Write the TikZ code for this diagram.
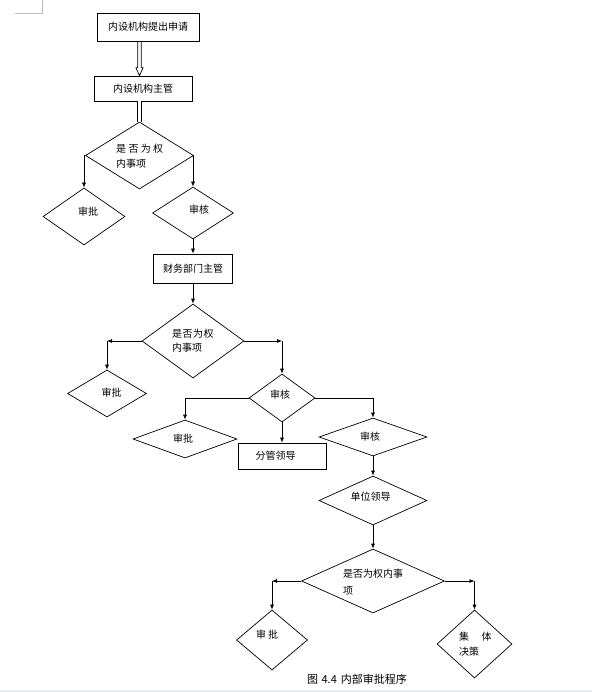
\documentclass[tikz,border=0pt]{standalone}
\usepackage{fontspec}
\setmainfont{Noto Sans CJK SC}
\usetikzlibrary{shapes.geometric,arrows.meta,calc}
\definecolor{band}{RGB}{234,234,242}
\definecolor{cornergray}{RGB}{190,190,190}
\tikzset{
  box/.style={draw, rectangle, line width=0.7pt, inner sep=0pt, font=\fontsize{10pt}{12pt}\selectfont},
  dia/.style={draw, diamond, line width=0.7pt, inner sep=0pt},
  txt/.style={inner sep=0pt, font=\fontsize{10pt}{12pt}\selectfont},
  ln/.style={line width=0.7pt},
  arr/.style={line width=0.7pt, -{Latex[length=5pt,width=4pt]}},
}
\begin{document}
\begin{tikzpicture}[x=1pt,y=-1pt]
\useasboundingbox (0,0) rectangle (592,692);
\fill[white] (0,0) rectangle (592,692);
\fill[band] (0,689.5) rectangle (592,692);
\draw[cornergray, line width=0.8pt] (15,13) -- (42.5,13) -- (42.5,0);

% nodes
\node[box, minimum width=102pt, minimum height=28pt] (b1) at (148,27) {内设机构提出申请};
\node[box, minimum width=98pt, minimum height=25pt] (b2) at (143,88.5) {内设机构主管};
\node[dia, minimum width=108pt, minimum height=67pt] (D1) at (139.5,155.5) {};
\node[txt, align=left, anchor=west, font=\fontsize{10pt}{15.5pt}\selectfont] (t1) at (116,156) {是\hspace{2.3pt}否\hspace{2.3pt}为\hspace{2.3pt}权\\内事项};
\node[dia, minimum width=82pt, minimum height=57pt] (A1) at (84,216.5) {};
\node[txt] (tA1) at (88,212) {审批};
\node[dia, minimum width=81pt, minimum height=52pt] (B1) at (193,213) {};
\node[txt] (tB1) at (199,210) {审核};
\node[box, minimum width=79pt, minimum height=29pt] (b3) at (193,268.5) {财务部门主管};
\node[dia, minimum width=102pt, minimum height=74pt] (D2) at (193,341) {};
\node[txt, align=left, anchor=west, font=\fontsize{10pt}{14pt}\selectfont] (t2) at (172,341) {是\hspace{0.5pt}否\hspace{0.5pt}为\hspace{0.5pt}权\\内事项};
\node[dia, minimum width=79pt, minimum height=47pt] (A2) at (107,393.5) {};
\node[txt] (tA2) at (111.5,393) {审批};
\node[dia, minimum width=66pt, minimum height=48pt] (B2) at (282,398) {};
\node[txt] (tB2) at (280,395) {审核};
\node[dia, minimum width=104pt, minimum height=38pt] (A3) at (185,439) {};
\node[txt] (tA3) at (183,439) {审批};
\node[box, minimum width=88pt, minimum height=26pt] (fg) at (282,456) {};
\node[txt] (tfg) at (275.5,456) {分管领导};
\node[dia, minimum width=108pt, minimum height=38pt] (B3) at (373,437) {};
\node[txt] (tB3) at (370,437) {审核};
\node[dia, minimum width=108pt, minimum height=49pt] (C) at (373,500.5) {};
\node[txt] (tC) at (370.5,497) {单位领导};
\node[dia, minimum width=143pt, minimum height=64pt] (D3) at (373,581) {};
\node[txt, align=left, anchor=west, font=\fontsize{10pt}{17pt}\selectfont] (t3) at (343,582.5) {是否为权内事\\项};
\node[dia, minimum width=71pt, minimum height=60pt] (A4) at (272,640) {};
\node[txt] (tA4) at (267,635) {审\hspace{2pt}批};
\node[dia, minimum width=75pt, minimum height=68pt] (E) at (474.5,644) {};
\node[txt, align=left, anchor=west, font=\fontsize{10pt}{15pt}\selectfont] (tE) at (459,644.5) {集\hspace{12.5pt}体\\决策};
\node[inner sep=0pt, font=\fontsize{11pt}{13pt}\selectfont] (cap) at (357,679) {图\hspace{3.5pt}4.4\hspace{4pt}内部审批程序};

% double open arrow b1 -> b2
\draw[ln, line join=miter]
  ($(b1.south -| D1.north)+(-1.8,0)$) -- ($(b2.north -| D1.north)+(-1.8,-8)$)
  -- ($(b2.north -| D1.north)+(-3.6,-8)$) -- (b2.north -| D1.north)
  -- ($(b2.north -| D1.north)+(3.6,-8)$) -- ($(b2.north -| D1.north)+(1.8,-8)$)
  -- ($(b1.south -| D1.north)+(1.8,0)$);
% double line b2 -> D1
\draw[ln, double, double distance=2.9pt] (b2.south -| D1.north) -- (D1.north);

% connectors
\draw[arr] (D1.west -| A1.north) -- (A1.north);
\draw[arr] (D1.east -| B1.north) -- (B1.north);
\draw[arr] (B1.south) -- (b3.north);
\draw[arr] (b3.south) -- (D2.north);
\draw[arr] (D2.west) -- (D2.west -| A2.north);
\draw[arr] (D2.west -| A2.north) -- (A2.north);
\draw[arr] (D2.east) -- (D2.east -| B2.north);
\draw[arr] (D2.east -| B2.north) -- (B2.north);
\draw[ln] (B2.west) -- (B2.west -| A3.north);
\draw[arr] (B2.west -| A3.north) -- (A3.north);
\draw[ln] (B2.east) -- (B2.east -| B3.north);
\draw[arr] (B2.east -| B3.north) -- (B3.north);
\draw[arr] (B2.south) -- (fg.north);
\draw[arr] (B3.south) -- (C.north);
\draw[arr] (C.south) -- (D3.north);
\draw[arr] (D3.west) -- (D3.west -| A4.north);
\draw[arr] (D3.west -| A4.north) -- (A4.north);
\draw[arr] (D3.east) -- (D3.east -| E.north);
\draw[arr] (D3.east -| E.north) -- (E.north);
\end{tikzpicture}
\end{document}
